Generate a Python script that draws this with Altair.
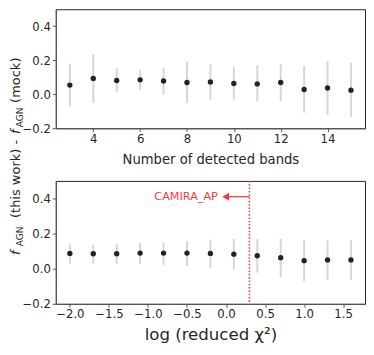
import altair as alt
import pandas as pd

# ---- data ----
bands = [3, 4, 5, 6, 7, 8, 9, 10, 11, 12, 13, 14, 15]
band_med = [0.054, 0.093, 0.081, 0.085, 0.078, 0.069, 0.072, 0.063, 0.061, 0.069, 0.028, 0.037, 0.024]
band_hi = [0.181, 0.235, 0.152, 0.144, 0.157, 0.193, 0.176, 0.161, 0.169, 0.176, 0.167, 0.196, 0.185]
band_lo = [-0.072, -0.050, 0.011, 0.026, -0.002, -0.052, -0.033, -0.031, -0.043, -0.041, -0.109, -0.122, -0.133]

chi = [-2.0, -1.7, -1.4, -1.1, -0.8, -0.5, -0.2, 0.1, 0.4, 0.7, 1.0, 1.3, 1.6]
chi_med = [0.087, 0.085, 0.085, 0.089, 0.089, 0.089, 0.087, 0.083, 0.074, 0.063, 0.046, 0.050, 0.050]
chi_hi = [0.137, 0.137, 0.143, 0.146, 0.150, 0.157, 0.165, 0.169, 0.169, 0.169, 0.163, 0.161, 0.163]
chi_lo = [0.030, 0.028, 0.026, 0.026, 0.022, 0.015, 0.006, -0.006, -0.022, -0.048, -0.072, -0.065, -0.065]

band_ticks = [4, 6, 8, 10, 12, 14]
chi_ticks = [-2.0, -1.5, -1.0, -0.5, 0.0, 0.5, 1.0, 1.5]
y_ticks = [-0.2, 0.0, 0.2, 0.4]

cut_value = 0.3
arrow_tip = -0.02
arrow_head = -0.005
arrow_y = 0.41
label_x = -0.105
label_text = "CAMIRA_AP"

FONT = "DejaVu Sans"
TXT = "#262626"
RED = "#f03c3c"
W = 317

top_df = pd.DataFrame({"x": bands, "y": band_med, "lo": band_lo, "hi": band_hi})
bot_df = pd.DataFrame({"x": chi, "y": chi_med, "lo": chi_lo, "hi": chi_hi})


def panel(df, xdomain, xvals, xfmt, xtitle, tsize, ty):
    xs = alt.Scale(domain=xdomain, nice=False, zero=False)
    ys = alt.Scale(domain=[-0.2, 0.5], nice=False, zero=False)
    xaxis = alt.Axis(values=xvals, format=xfmt, title=xtitle, titleFontSize=tsize,
                     titleFont=FONT, titleColor=TXT, titleFontWeight="normal",
                     titleBaseline="alphabetic", titleY=ty, labelOverlap=False)
    yaxis = alt.Axis(values=y_ticks, format=".1f", title=None, labelOverlap=False)
    base = alt.Chart(df)
    bars = base.mark_rule(color="#d6d6d6", strokeWidth=2).encode(
        x=alt.X("x:Q", scale=xs, axis=xaxis),
        y=alt.Y("lo:Q", scale=ys, axis=yaxis),
        y2="hi:Q",
    )
    pts = base.mark_circle(size=30, color="#222222", opacity=1).encode(
        x="x:Q", y="y:Q"
    )
    return [bars, pts]


top_layers = panel(top_df, [2.4, 15.6], band_ticks, "d", "Number of detected bands", 13.5, 35.7)
top = alt.layer(*top_layers).properties(width=W, height=122)

bot_layers = panel(bot_df, [-2.18, 1.78], chi_ticks, ".1f", "log (reduced χ²)", 17, 37)

one = alt.Data(values=[{}])
vline = alt.Chart(one).mark_rule(color=RED, strokeWidth=1.6, strokeDash=[1.6, 1.8]).encode(
    x=alt.datum(cut_value), y=alt.value(0), y2=alt.value(126)
)
shaft = alt.Chart(one).mark_rule(color=RED, strokeWidth=1.3).encode(
    x=alt.datum(cut_value), x2=alt.datum(arrow_tip), y=alt.datum(arrow_y)
)
head = alt.Chart(one).mark_point(shape="triangle-left", filled=True, color=RED, size=65, opacity=1).encode(
    x=alt.datum(arrow_head), y=alt.datum(arrow_y)
)
camira = alt.Chart(one).mark_text(color=RED, fontSize=11.5, font=FONT, align="right", baseline="middle").encode(
    x=alt.datum(label_x), y=alt.datum(arrow_y), text=alt.value(label_text)
)

# shared y title, rotated, assembled from pieces (f italic, AGN subscript)
TS = 13.3
bx = -36.5
pieces = [
    ("f", 76, bx, TS, "italic"),
    ("AGN", 67, bx + 3, 9.2, "normal"),
    ("(this work) -", 38, bx, TS, "normal"),
    ("f", -48, bx, TS, "italic"),
    ("AGN", -55, bx + 3, 9.2, "normal"),
    ("(mock)", -80, bx, TS, "normal"),
]
title_layers = []
for txt, yy, xx, fs, st in pieces:
    title_layers.append(
        alt.Chart(one).mark_text(angle=270, align="left", baseline="alphabetic",
                                 font=FONT, fontSize=fs, fontStyle=st, color=TXT).encode(
            x=alt.value(xx), y=alt.value(yy), text=alt.value(txt)
        )
    )

bottom = alt.layer(*bot_layers, vline, shaft, head, camira, *title_layers).properties(width=W, height=126)

chart = alt.vconcat(top, bottom, spacing=54, bounds="flush").properties(
    padding={"top": -4, "left": 0, "right": 0, "bottom": 0}
).configure_axis(
    labelFont=FONT, labelFontSize=12, labelColor=TXT, tickColor="#555555", tickSize=3.5,
    domainColor="#555555", grid=False, labelPadding=2
).configure_view(stroke="#222222", strokeWidth=1)

chart.save("out.html", embed_options={"renderer": "svg", "actions": False})
